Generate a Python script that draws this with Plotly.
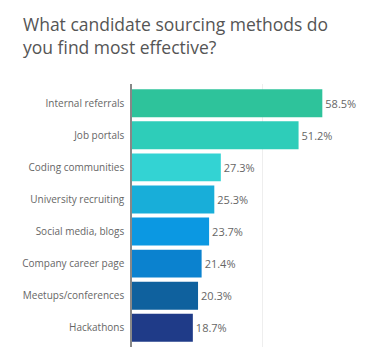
import plotly.graph_objects as go

categories = ["Internal referrals", "Job portals", "Coding communities", "University recruiting",
              "Social media, blogs", "Company career page", "Meetups/conferences", "Hackathons"]
values = [58.5, 51.2, 27.3, 25.3, 23.7, 21.4, 20.3, 18.7]
labels = ["58.5%", "51.2%", "27.3%", "25.3%", "23.7%", "21.4%", "20.3%", "18.7%"]
colors = ["#2EC39B", "#2ECDB9", "#33D3D3", "#18AED9", "#0B98E2", "#0B82CF", "#0F619E", "#1F3B88"]
title_text = "What candidate sourcing methods do<br>you find most effective?"

fig = go.Figure(go.Bar(
    x=values, y=categories, orientation="h",
    marker=dict(color=colors, line=dict(width=0)),
    text=labels, textposition="outside", cliponaxis=False,
    textfont=dict(family="Open Sans", size=11, color="#666666"),
    width=0.87,
))

H_PLOT = 362 - 84 - 15
fig.add_annotation(
    text=title_text, xref="paper", yref="paper",
    x=(21 - 132) / 244, y=1 + (84 - 10) / H_PLOT,
    xanchor="left", yanchor="top", align="left", showarrow=False,
    font=dict(family="Open Sans", size=17.5, color="#555555"),
)

fig.update_layout(
    width=380, height=362,
    paper_bgcolor="white", plot_bgcolor="white",
    margin=dict(l=132, r=4, t=84, b=15, autoexpand=False),
    showlegend=False,
    xaxis=dict(range=[0, 75], dtick=40, showticklabels=False, showgrid=True,
               gridcolor="#EEEEEE", gridwidth=1, zeroline=False, automargin=False),
    yaxis=dict(categoryorder="array", categoryarray=categories, range=[7.6, -0.6],
               showline=True, linecolor="#888888", linewidth=1.5, ticks="",
               ticklabelstandoff=4, automargin=False,
               tickfont=dict(family="Open Sans", size=10, color="#666666")),
)

fig.write_html("out.html", config={"displayModeBar": False},
               post_script="document.body.style.margin='0';")
